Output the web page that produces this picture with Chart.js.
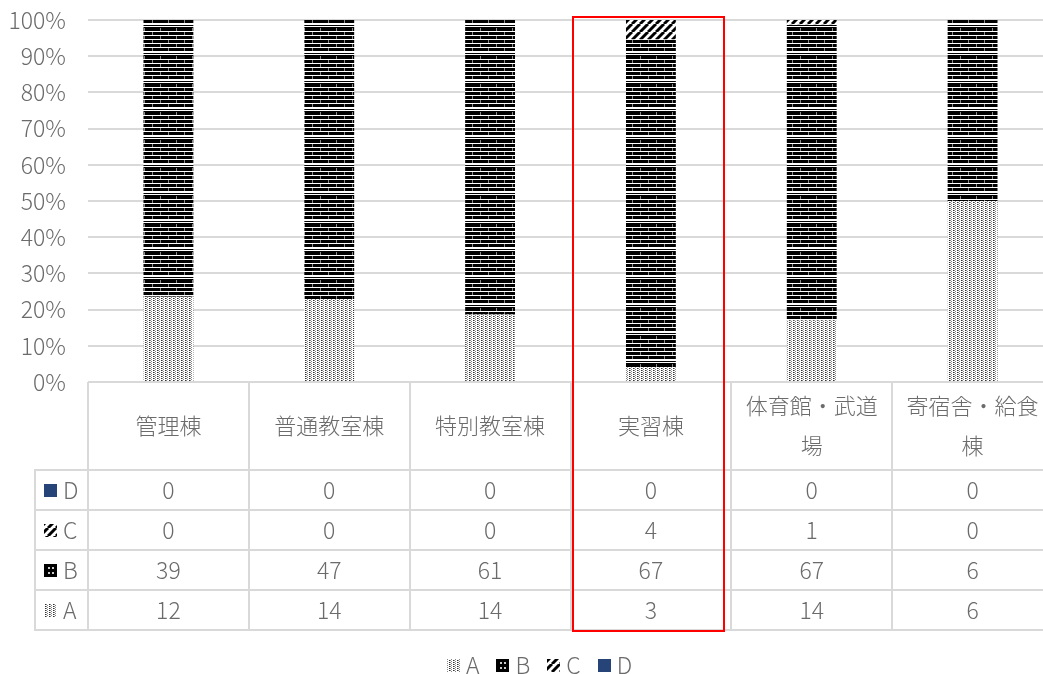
<!DOCTYPE html>
<html>
<head>
<meta charset="utf-8">
<script src="https://cdn.jsdelivr.net/npm/chart.js@4/dist/chart.umd.min.js"></script>
<style>
  html, body { margin: 0; padding: 0; background: #fff; overflow: hidden; }
  #wrap { width: 1043px; height: 674px; overflow: hidden; }
</style>
</head>
<body>
<div id="wrap"><canvas id="chart" width="1053" height="674"></canvas></div>
<script>
// ---- data ----
const categories = ['管理棟', '普通教室棟', '特別教室棟', '実習棟', '体育館・武道場', '寄宿舎・給食棟'];
const seriesNames = ['A', 'B', 'C', 'D'];
const valuesA = [12, 14, 14, 3, 14, 6];
const valuesB = [39, 47, 61, 67, 67, 6];
const valuesC = [0, 0, 0, 4, 1, 0];
const valuesD = [0, 0, 0, 0, 0, 0];
const yTicks = [0, 10, 20, 30, 40, 50, 60, 70, 80, 90, 100];
const highlightIndex = 3; // 実習棟 は赤枠

const FONT = '"Noto Sans CJK JP", "Noto Sans", sans-serif';
const TEXT = '#6b6b6b';
const GRID = '#d9d9d9';

// ---- patterns ----
function makeTile(w, h, draw) {
    const c = document.createElement('canvas');
    c.width = w; c.height = h;
    draw(c.getContext('2d'), w, h);
    return c;
}
const asPattern = tile => document.createElement('canvas').getContext('2d').createPattern(tile, 'repeat');

// A: 点線グリッド
const patA = asPattern(makeTile(4, 4, (g, w, h) => {
    g.fillStyle = '#fff'; g.fillRect(0, 0, w, h);
    g.fillStyle = '#333';
    g.fillRect(1, 0, 1, 1); g.fillRect(1, 2, 1, 1);
    g.fillStyle = '#888';
    g.fillRect(3, 1, 1, 1); g.fillRect(3, 3, 1, 1);
    g.fillRect(2, 0, 1, 1); g.fillRect(2, 2, 1, 1);
}));

// B: れんが風 (棒)
const patB = asPattern(makeTile(16, 28, (g, w, h) => {
    g.fillStyle = '#000'; g.fillRect(0, 0, w, h);
    g.fillStyle = '#fff';
    for (let y = 3; y < 24; y += 4) g.fillRect(0, y, w, 1);
    g.fillStyle = '#8a8a8a';
    for (let y = 0; y < 24; y += 8) {
        g.fillRect(0, y, 1, 3);
        g.fillRect(8, y + 4, 1, 3);
    }
    g.fillStyle = '#fff';
    g.fillRect(0, 24, w, 1);
    g.fillRect(0, 26, w, 1);
}));

// B: 凡例用 (黒地に白点)
const swatchB = makeTile(13, 13, (g, w, h) => {
    g.fillStyle = '#000'; g.fillRect(0, 0, w, h);
    g.fillStyle = '#ccc';
    g.fillRect(4, 3, 2, 2); g.fillRect(8, 3, 2, 2);
    g.fillRect(4, 8, 2, 2); g.fillRect(8, 8, 2, 2);
});

// C: 斜線
const patC = asPattern(makeTile(8, 8, (g, w, h) => {
    g.fillStyle = '#fff'; g.fillRect(0, 0, w, h);
    g.strokeStyle = '#000'; g.lineWidth = 3;
    for (let o = -8; o <= 8; o += 8) {
        g.beginPath(); g.moveTo(o, h); g.lineTo(o + w, 0); g.stroke();
    }
}));

const colorD = '#264478';

// ---- percentages ----
const totals = categories.map((_, i) => valuesA[i] + valuesB[i] + valuesC[i] + valuesD[i]);
const pct = arr => arr.map((v, i) => totals[i] ? v / totals[i] * 100 : 0);

const seriesValues = [valuesA, valuesB, valuesC, valuesD];
const seriesFills = [patA, patB, patC, colorD];

const HEAD_H = 88;
const ROW_H = 40;
const LABEL_COL_LEFT = 35;

function drawSwatch(ctx, s, x, y) {
    if (s === 1) { ctx.drawImage(swatchB, x, y); return; }
    ctx.fillStyle = seriesFills[s];
    ctx.fillRect(x, y, 13, 13);
}

// ---- data table + legend plugin ----
const dataTablePlugin = {
    id: 'dataTable',
    afterDraw(chart) {
        const { ctx, chartArea } = chart;
        const left = chartArea.left, right = chartArea.right, top = chartArea.bottom;
        const n = categories.length;
        const colW = (right - left) / n;
        const bottom = top + HEAD_H + ROW_H * seriesNames.length;

        ctx.save();
        ctx.strokeStyle = GRID;
        ctx.lineWidth = 2;

        // 縦線
        for (let i = 0; i <= n; i++) {
            const x = Math.round(left + i * colW);
            ctx.beginPath(); ctx.moveTo(x, top); ctx.lineTo(x, bottom); ctx.stroke();
        }
        ctx.beginPath(); ctx.moveTo(LABEL_COL_LEFT, top + HEAD_H); ctx.lineTo(LABEL_COL_LEFT, bottom); ctx.stroke();

        // 横線
        for (let r = 0; r <= seriesNames.length; r++) {
            const y = top + HEAD_H + r * ROW_H;
            ctx.beginPath(); ctx.moveTo(LABEL_COL_LEFT - 1, y); ctx.lineTo(right, y); ctx.stroke();
        }

        // 項目名
        ctx.fillStyle = TEXT;
        ctx.font = '300 22px ' + FONT;
        ctx.textAlign = 'center';
        ctx.textBaseline = 'middle';
        categories.forEach((name, i) => {
            const cx = left + (i + 0.5) * colW;
            const lines = [];
            let cur = '';
            for (const ch of name) {
                if (ctx.measureText(cur + ch).width > colW - 16 && cur) { lines.push(cur); cur = ch; }
                else cur += ch;
            }
            lines.push(cur);
            const lh = 40;
            const y0 = top + HEAD_H / 2 - (lines.length - 1) * lh / 2;
            lines.forEach((ln, k) => ctx.fillText(ln, cx, y0 + k * lh));
        });

        // 行 (D, C, B, A の順)
        const order = [3, 2, 1, 0];
        order.forEach((s, r) => {
            const cy = top + HEAD_H + r * ROW_H + ROW_H / 2;
            drawSwatch(ctx, s, 44, Math.round(cy - 6));
            ctx.fillStyle = TEXT;
            ctx.font = '300 23px ' + FONT;
            ctx.textAlign = 'left';
            ctx.fillText(seriesNames[s], 63, cy);
            ctx.textAlign = 'center';
            seriesValues[s].forEach((v, i) => {
                ctx.fillText(String(v), left + (i + 0.5) * colW, cy);
            });
        });

        // 凡例
        ctx.font = '300 23px ' + FONT;
        ctx.textAlign = 'left';
        const items = seriesNames.map(name => 13 + 6 + ctx.measureText(name).width);
        const gap = 17;
        const total = items.reduce((a, b) => a + b, 0) + gap * (items.length - 1);
        let lx = chart.width / 2 + 13 - total / 2;
        const ly = 665;
        seriesNames.forEach((name, s) => {
            drawSwatch(ctx, s, Math.round(lx), ly - 6);
            ctx.fillStyle = TEXT;
            ctx.fillText(name, lx + 19, ly);
            lx += items[s] + gap;
        });

        // 赤枠
        ctx.strokeStyle = '#ff0000';
        ctx.lineWidth = 2;
        const hx = left + highlightIndex * colW;
        ctx.strokeRect(Math.round(hx + 2), chartArea.top - 3, Math.round(colW - 10), bottom - chartArea.top + 4);
        ctx.restore();
    }
};

new Chart(document.getElementById('chart'), {
    type: 'bar',
    data: {
        labels: categories,
        datasets: seriesNames.map((name, s) => ({
            label: name,
            data: pct(seriesValues[s]),
            backgroundColor: seriesFills[s],
            borderWidth: 0,
            categoryPercentage: 1,
            barPercentage: 0.31
        }))
    },
    options: {
        responsive: false,
        animation: false,
        layout: { padding: { top: 20, right: 0, left: 0, bottom: 0 } },
        plugins: {
            tooltip: { enabled: false },
            legend: { display: false }
        },
        scales: {
            x: {
                stacked: true,
                grid: { display: false },
                border: { display: false },
                ticks: { display: false },
                afterFit(scale) { scale.height = 674 - 382; }
            },
            y: {
                stacked: true,
                min: 0,
                max: 100,
                afterBuildTicks(scale) { scale.ticks = yTicks.map(v => ({ value: v })); },
                afterFit(scale) {
                    scale.width = 88;
                    scale.paddingTop = 0;
                    scale.paddingBottom = 0;
                },
                grid: { color: GRID, lineWidth: 2, drawTicks: false },
                border: { display: false },
                ticks: {
                    color: TEXT,
                    padding: 22,
                    font: { family: FONT, size: 23, weight: 300 },
                    callback: v => v + '%'
                }
            }
        }
    },
    plugins: [dataTablePlugin]
});
</script>
</body>
</html>
